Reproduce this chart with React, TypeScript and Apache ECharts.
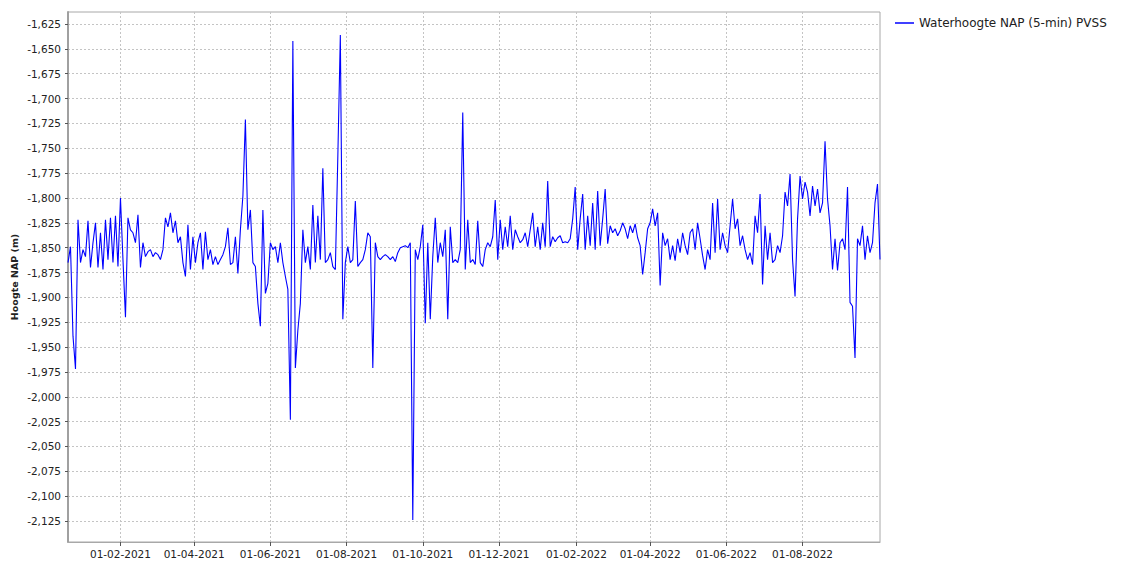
import React, { useEffect, useRef } from "react";
import * as echarts from "echarts";

// Series: water level, one reading every 2 days starting at seriesStart
const seriesName = "Waterhoogte NAP (5-min) PVSS";
const seriesStart = "2020-12-21";
const stepDays = 2;

const levelsWinter2021 = [
  -1.865, -1.849, -1.939, -1.972, -1.822, -1.865, -1.852, -1.859, -1.823, -1.870,
  -1.845, -1.825, -1.870, -1.835, -1.872, -1.822, -1.862, -1.820, -1.865, -1.818,
  -1.869, -1.800, -1.862, -1.920, -1.820, -1.832, -1.835, -1.845, -1.817, -1.870,
  -1.845, -1.859, -1.854, -1.852, -1.859, -1.855, -1.857, -1.862, -1.852, -1.820,
  -1.829, -1.815, -1.835, -1.823, -1.845, -1.839, -1.865, -1.879, -1.827, -1.872,
  -1.839, -1.865, -1.845, -1.835, -1.872, -1.834, -1.862, -1.852, -1.867, -1.859,
  -1.867, -1.862, -1.857, -1.849, -1.830, -1.867,
];
const levelsSummer2021 = [
  -1.865, -1.839, -1.876, -1.832, -1.798, -1.721, -1.832, -1.812, -1.865, -1.869,
  -1.906, -1.929, -1.812, -1.896, -1.886, -1.845, -1.852, -1.849, -1.865, -1.845,
  -1.865, -1.879, -1.892, -2.023, -1.642, -1.971, -1.933, -1.906, -1.832, -1.865,
  -1.849, -1.872, -1.807, -1.865, -1.818, -1.862, -1.770, -1.865, -1.862, -1.855,
  -1.869, -1.872, -1.758, -1.636, -1.922, -1.865, -1.849, -1.865, -1.862, -1.803,
  -1.869, -1.865, -1.862, -1.852, -1.835, -1.839, -1.971, -1.845, -1.859, -1.862,
  -1.859, -1.857, -1.859, -1.862, -1.859, -1.864,
];
const levelsAutumn2021 = [
  -1.855, -1.850, -1.849, -1.848, -1.850, -1.845, -2.124, -1.852, -1.862, -1.849,
  -1.827, -1.926, -1.845, -1.922, -1.859, -1.820, -1.865, -1.845, -1.859, -1.832,
  -1.922, -1.829, -1.865, -1.862, -1.865, -1.852, -1.714, -1.872, -1.822, -1.865,
  -1.862, -1.867, -1.823, -1.865, -1.869, -1.852, -1.845, -1.849, -1.839, -1.802,
  -1.862, -1.822, -1.852, -1.829, -1.849, -1.818, -1.852, -1.832, -1.839, -1.845,
  -1.842, -1.835, -1.849, -1.832, -1.815, -1.849, -1.829, -1.852, -1.825, -1.849,
  -1.783, -1.849, -1.839, -1.844, -1.840,
];
const levelsSpring2022 = [
  -1.838, -1.845, -1.844, -1.845, -1.841, -1.821, -1.789, -1.852, -1.821, -1.796,
  -1.852, -1.818, -1.848, -1.805, -1.852, -1.793, -1.848, -1.821, -1.791, -1.846,
  -1.828, -1.835, -1.831, -1.838, -1.833, -1.825, -1.831, -1.841, -1.828, -1.835,
  -1.826, -1.840, -1.848, -1.877, -1.855, -1.831, -1.825, -1.811, -1.828, -1.815,
  -1.888, -1.835, -1.848, -1.841, -1.862, -1.848, -1.863, -1.841, -1.855, -1.835,
  -1.848, -1.857, -1.835, -1.831, -1.852, -1.825, -1.841, -1.858, -1.872, -1.852,
  -1.862, -1.805, -1.855, -1.801, -1.852, -1.835,
];
const levelsSummer2022 = [
  -1.848, -1.855, -1.828, -1.801, -1.831, -1.821, -1.848, -1.838, -1.852, -1.862,
  -1.855, -1.867, -1.818, -1.835, -1.796, -1.887, -1.828, -1.862, -1.835, -1.865,
  -1.862, -1.848, -1.855, -1.838, -1.794, -1.808, -1.776, -1.862, -1.899, -1.821,
  -1.778, -1.801, -1.784, -1.794, -1.818, -1.788, -1.808, -1.791, -1.815, -1.805,
  -1.743, -1.801, -1.828, -1.872, -1.841, -1.873, -1.845, -1.841, -1.852, -1.789,
  -1.905, -1.909, -1.961, -1.841, -1.848, -1.828, -1.862, -1.838, -1.855, -1.845,
  -1.805, -1.786, -1.862,
];

const xTickDates = [
  "2021-02-01", "2021-04-01", "2021-06-01", "2021-08-01", "2021-10-01",
  "2021-12-01", "2022-02-01", "2022-04-01", "2022-06-01", "2022-08-01",
];
const xMinDate = "2020-12-21";
const xMaxDate = "2022-10-02";

const yTickMin = -2.125;
const yTickMax = -1.625;
const yTickStep = 0.025;
const yDataMin = -2.1461;
const yDataMax = -1.6129;
const yAxisTitle = "Hoogte NAP (m)";

const DAY = 86400000;
const toTime = (s: string) => {
  const [y, m, d] = s.split("-").map(Number);
  return Date.UTC(y, m - 1, d);
};
const pad = (n: number) => (n < 10 ? "0" + n : "" + n);

export default function App() {
  const ref = useRef<HTMLDivElement>(null);
  useEffect(() => {
    if (!ref.current) return;
    const chart = echarts.init(ref.current, undefined, { renderer: "svg" });
    const allLevels = [
      ...levelsWinter2021,
      ...levelsSummer2021,
      ...levelsAutumn2021,
      ...levelsSpring2022,
      ...levelsSummer2022,
    ];
    const t0 = toTime(seriesStart);
    const data = allLevels.map((v, i) => [t0 + i * stepDays * DAY, v]);
    const ticks = xTickDates.map(toTime);
    const font = "DejaVu Sans";
    const left = 68;
    const width = 812;

    chart.setOption({
      animation: false,
      backgroundColor: "#ffffff",
      grid: [
        { left, top: 12, width, height: 530, show: true, borderColor: "#a8a8a8", borderWidth: 1, backgroundColor: "transparent" },
        { left, top: 24, width, height: 497, show: false },
      ],
      xAxis: [
        {
          type: "value",
          gridIndex: 0,
          min: toTime(xMinDate),
          max: toTime(xMaxDate),
          axisLine: { show: true, lineStyle: { color: "#a8a8a8", width: 1 } },
          axisTick: { show: true, customValues: ticks, length: 4, inside: false, lineStyle: { color: "#555" } },
          axisLabel: {
            customValues: ticks,
            margin: 6,
            fontFamily: font,
            fontSize: 10.5,
            color: "#222",
            formatter: (v: number) => {
              const d = new Date(v);
              return pad(d.getUTCDate()) + "-" + pad(d.getUTCMonth() + 1) + "-" + d.getUTCFullYear();
            },
          },
          splitLine: { show: false },
        },
        { type: "value", gridIndex: 1, min: 0, max: 1, show: false },
      ],
      yAxis: [
        {
          type: "value",
          gridIndex: 0,
          min: yDataMin,
          max: yDataMax,
          axisLine: { show: true, lineStyle: { color: "#a0a0a0", width: 2 } },
          axisTick: { show: false },
          axisLabel: { show: false },
          splitLine: { show: false },
        },
        {
          type: "value",
          gridIndex: 1,
          min: yTickMin,
          max: yTickMax,
          interval: yTickStep,
          axisLine: { show: false },
          axisTick: { show: true, length: 3, lineStyle: { color: "#555" } },
          axisLabel: {
            margin: 7,
            fontFamily: font,
            fontSize: 10.5,
            color: "#222",
            formatter: (v: number) => v.toFixed(3).replace(".", ","),
          },
          splitLine: { show: true, lineStyle: { color: "#c4c4c4", type: [2, 2], width: 1 } },
        },
      ],
      legend: {
        data: [seriesName],
        left: 895,
        top: 17,
        padding: 0,
        icon: "rect",
        itemWidth: 19,
        itemHeight: 1.5,
        textStyle: { fontFamily: font, fontSize: 12, color: "#222" },
      },
      graphic: [
        {
          type: "text",
          x: 14,
          y: 277,
          rotation: Math.PI / 2,
          style: {
            text: yAxisTitle,
            font: "bold 9.5px 'DejaVu Sans'",
            fill: "#222",
            textAlign: "center",
            textVerticalAlign: "middle",
          },
        },
      ],
      series: [
        {
          type: "line",
          xAxisIndex: 0,
          yAxisIndex: 0,
          data: [],
          z: 1,
          silent: true,
          markLine: {
            silent: true,
            z: 1,
            symbol: "none",
            label: { show: false },
            lineStyle: { color: "#c4c4c4", type: [2, 2], width: 1 },
            data: ticks.map((t) => ({ xAxis: t })),
          },
        },
        {
          name: seriesName,
          type: "line",
          xAxisIndex: 0,
          yAxisIndex: 0,
          data,
          z: 3,
          showSymbol: false,
          symbol: "none",
          color: "#0000ff",
          lineStyle: { color: "#0000ff", width: 1.1 },
        },
      ],
    });
    return () => chart.dispose();
  }, []);
  return (
    <div
      ref={ref}
      style={{ position: "absolute", left: 0, top: 0, width: 1130, height: 563, background: "#fff" }}
    />
  );
}
